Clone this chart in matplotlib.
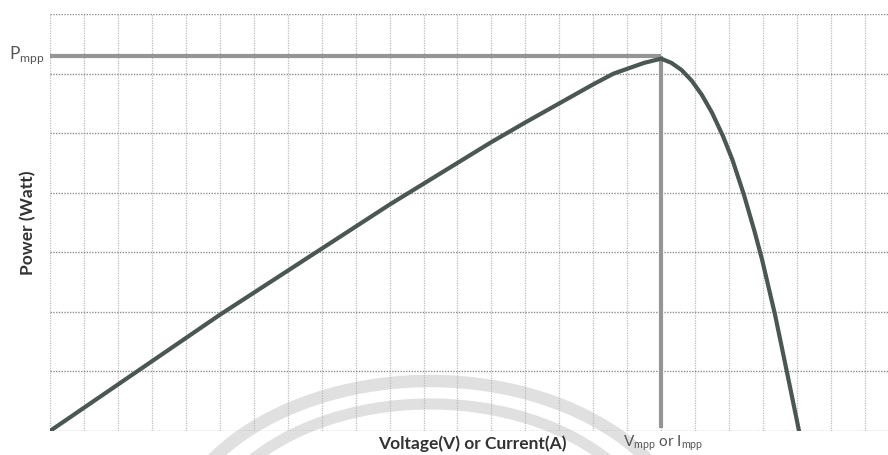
import numpy as np
import matplotlib
matplotlib.use('Agg')
import matplotlib.pyplot as plt
from matplotlib.patches import Arc

plt.rcParams['font.family'] = ['Lato', 'DejaVu Sans']
plt.rcParams['mathtext.fontset'] = 'custom'
plt.rcParams['mathtext.rm'] = 'Lato'

# P-V curve (grid units)
voltage = [0, 5.0, 8.0, 10.0, 12.0, 13.0, 14.0, 15.0, 16.0, 16.6, 17.0, 17.5,
           18.0, 18.3, 18.6, 18.9, 19.2, 19.5, 19.82, 20.1, 20.44, 20.75,
           20.97, 21.35, 21.70, 22.06]
power = [0, 1.95, 3.06, 3.80, 4.50, 4.85, 5.18, 5.50, 5.82, 6.00, 6.08, 6.18,
         6.25, 6.18, 6.06, 5.88, 5.64, 5.34, 4.95, 4.55, 3.96, 3.35,
         2.88, 1.96, 1.00, 0]

v_mpp = 18.0
p_mpp = 6.3

fig = plt.figure(figsize=(8.88, 4.55), dpi=100)

# faint watermark arcs from the scan, drawn in pixel space behind the chart
bg = fig.add_axes([0, 0, 1, 1])
bg.set_xlim(0, 888)
bg.set_ylim(455, 0)
bg.axis('off')
bg.add_patch(Arc((430, 560), 526, 358, theta1=180, theta2=360,
                 color='#e0e0e0', lw=9))
bg.add_patch(Arc((430, 560), 464, 312, theta1=180, theta2=360,
                 color='#e0e0e0', lw=8))

ax = fig.add_axes([50 / 888, 1 - 431 / 455, 838 / 888, 417 / 455])
ax.set_facecolor('none')
ax.set_xlim(0, 24.68)
ax.set_ylim(0, 7)
ax.set_xticks(np.arange(0, 25, 1))
ax.set_yticks(np.arange(0, 8, 1))
ax.xaxis.grid(True, linestyle=(0, (1, 1)), color='#bcbcbc', lw=0.9)
ax.yaxis.grid(True, linestyle=(0, (1, 1)), color='#8e8e8e', lw=1.0)
ax.tick_params(length=0, labelbottom=False, labelleft=False)
for s in ax.spines.values():
    s.set_visible(False)

# Pmpp / Vmpp guide lines
ax.plot([0, v_mpp], [p_mpp, p_mpp], color='#959595', lw=3, solid_capstyle='butt', zorder=3)
ax.plot([v_mpp, v_mpp], [0.05, p_mpp], color='#959595', lw=3, solid_capstyle='butt', zorder=3)

# P-V curve
ax.plot(voltage, power, color='#4b5753', lw=3, solid_capstyle='round',
        solid_joinstyle='round', zorder=4)

ax.set_ylabel('Power (Watt)', fontsize=12.5, fontweight='bold', color='#333333', labelpad=10)
fig.text(472 / 888, 1 - 444 / 455, 'Voltage(V) or Current(A)', fontsize=12.5,
         fontweight='bold', color='#333333', ha='center', va='center')
fig.text(9 / 888, 1 - 55 / 455, r'P$_{\mathrm{mpp}}$', fontsize=12.5, color='#555555',
         ha='left', va='center')
fig.text(623 / 888, 1 - 443 / 455, r'V$_{\mathrm{mpp}}$ or I$_{\mathrm{mpp}}$', fontsize=11,
         color='#555555', ha='left', va='center')

fig.savefig('out.png', dpi=100)
